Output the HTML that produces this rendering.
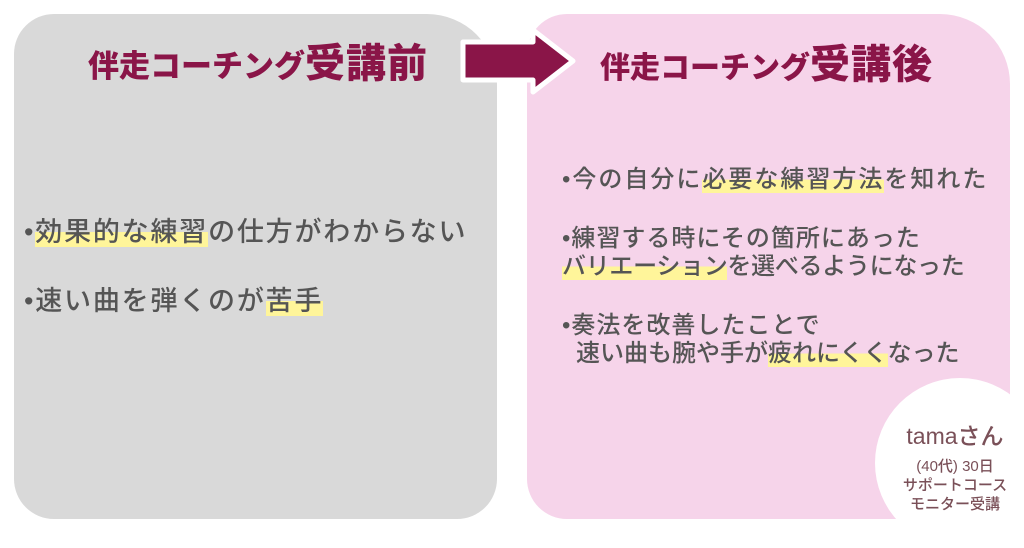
<!DOCTYPE html>
<html><head><meta charset="utf-8"><style>
body{margin:0;width:1024px;height:533px;background:#fff;position:relative;overflow:hidden;font-family:"Liberation Sans","Noto Sans CJK JP",sans-serif}
.p{position:absolute}
.t{position:absolute;white-space:nowrap;color:#555;font-weight:500;line-height:1}
.h{background:linear-gradient(transparent 50%,#fff59a 50%)}
.ttl{position:absolute;white-space:nowrap;color:#8a1548;font-weight:900;line-height:1}
</style></head><body>
<div class="p" style="left:14px;top:14px;width:483px;height:505px;background:#d9d9d9;border-radius:40px 70px 40px 40px"></div>
<div class="p" style="left:527px;top:14px;width:483px;height:505px;background:#f6d4ea;border-radius:40px 70px 40px 40px"></div>
<div class="p" style="left:875px;top:378px;width:170px;height:170px;border-radius:50%;background:#fff"></div>
<svg class="p" style="left:455px;top:25px" width="130" height="70"><polygon points="8,17 78,17 78,5 118,36 78,67 78,55 8,55" fill="#8a1548" stroke="#fff" stroke-width="5" stroke-linejoin="round"/></svg>

<div class="ttl" style="left:88px;top:44px;font-size:31px">伴走コーチング<span style="font-size:40px;letter-spacing:1px">受講前</span></div>
<div class="ttl" style="left:600px;top:45px;font-size:30px">伴走コーチング<span style="font-size:40px;letter-spacing:1px">受講後</span></div>

<div class="t" style="left:24px;top:219px;font-size:27px;letter-spacing:1.8px">•<span class="h">効果的な練習</span>の仕方がわからない</div>
<div class="t" style="left:24px;top:288px;font-size:27px;letter-spacing:1.8px">•速い曲を弾くのが<span class="h">苦手</span>&nbsp;</div>

<div class="t" style="left:562px;top:168px;font-size:24px;letter-spacing:2px">•今の自分に<span class="h">必要な練習方法</span>を知れた</div>
<div class="t" style="left:562px;top:227px;font-size:24px;letter-spacing:1px">•練習する時にその箇所にあった</div>
<div class="t" style="left:562px;top:255px;font-size:24px;letter-spacing:-0.3px"><span class="h">バリエーション</span>を選べるようになった</div>
<div class="t" style="left:562px;top:314px;font-size:24px;letter-spacing:1px">•奏法を改善したことで</div>
<div class="t" style="left:576px;top:342px;font-size:24px;letter-spacing:0px">速い曲も腕や手が<span class="h">疲れにくく</span>なった</div>

<div class="t" style="left:880px;top:425px;width:150px;text-align:center;font-size:23px;color:#7a5058">tamaさん</div>
<div class="t" style="left:880px;top:457px;width:150px;text-align:center;font-size:15px;color:#7a5058;line-height:19px">(40代) 30日<br>サポートコース<br>モニター受講</div>
</body></html>
